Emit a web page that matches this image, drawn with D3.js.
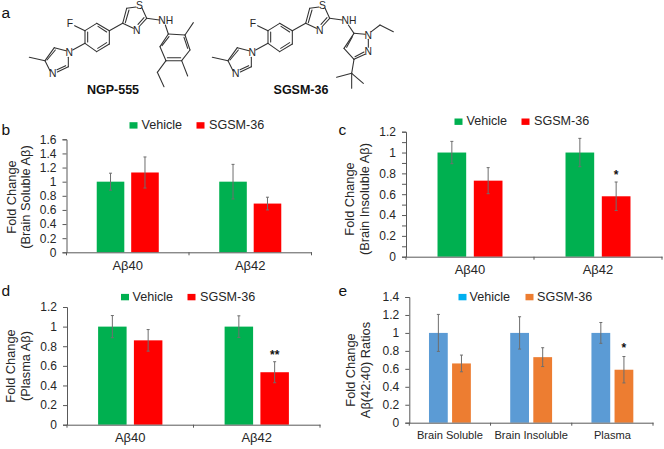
<!DOCTYPE html>
<html><head><meta charset="utf-8">
<script src="https://cdnjs.cloudflare.com/ajax/libs/d3/7.8.5/d3.min.js"></script>
<style>
html,body{margin:0;padding:0;background:#fff}
svg{display:block}
text{font-family:"Liberation Sans",Arial,sans-serif;fill:#262626}
</style></head><body>
<svg id="c" width="664" height="449"></svg>
<script>
// ---------- data ----------
const seriesNames = ["Vehicle", "SGSM-36"];
const abCats = ["Aβ40", "Aβ42"];
const ratioCats = ["Brain Soluble", "Brain Insoluble", "Plasma"];

const bVehicle = [1, 1],       bVehicleErr = [0.12, 0.245];
const bDrug    = [1.13, 0.69], bDrugErr    = [0.22, 0.09];
const bTicks   = [0, 0.2, 0.4, 0.6, 0.8, 1, 1.2, 1.4, 1.6];

const cVehicle = [1, 1],       cVehicleErr = [0.107, 0.136];
const cDrug    = [0.73, 0.58], cDrugErr    = [0.125, 0.137];
const cStars   = ["", "*"];
const cTicks   = [0, 0.2, 0.4, 0.6, 0.8, 1, 1.2];
const cMinorTicks = [0.1, 0.3, 0.5, 0.7, 0.9, 1.1];

const dVehicle = [1, 1],        dVehicleErr = [0.113, 0.11];
const dDrug    = [0.86, 0.535], dDrugErr    = [0.11, 0.107];
const dStars   = ["", "**"];
const dTicks   = [0, 0.2, 0.4, 0.6, 0.8, 1, 1.2];

const eVehicle = [1, 1, 1],          eVehicleErr = [0.206, 0.18, 0.116];
const eDrug    = [0.66, 0.73, 0.59], eDrugErr    = [0.093, 0.105, 0.147];
const eStars   = ["", "", "*"];
const eTicks   = [0, 0.2, 0.4, 0.6, 0.8, 1, 1.2, 1.4];

// ---------- chemical structures (drawn in 3x sketch units) ----------
const scaffoldBonds = [
 [88,172,135,182],[135,182,163,143],[141,180,166,150],[163,143,198,152],[205,172,205,200],
 [205,200,172,216],[197,197,171,209],[150,212,135,182],
 [218,150,255,130],[255,130,255,92],[263,126,263,96],[255,92,290,70],[290,70,328,92],
 [294,79,320,96],[328,92,328,132],[328,132,290,155],[320,128,293,145],[290,155,255,130],
 [255,92,224,77],
 [328,92,368,70],[368,70,380,25],[376,68,387,30],[380,25,408,21],[426,24,440,55],
 [440,55,419,78],[432,53,414,73],[400,85,368,70],[440,55,478,60]];
const ngpBonds = [
 [496,75,505,102],[505,102,555,105],[555,105,570,150],[552,112,563,145],[570,150,545,182],
 [545,182,498,182],[542,173,502,173],[498,182,480,140],[480,140,505,102],[486,137,507,110],
 [555,105,580,68],[545,182,563,228],[498,182,472,217],[472,217,492,260]];
const sgsmBonds = [
 [445,75,462,100],[462,100,495,103],[462,100,432,145],[457,110,440,142],[432,145,462,178],
 [462,178,495,163],[465,170,492,156],[505,118,505,142],
 [514,95,540,75],[540,75,580,95],
 [462,178,455,220],[455,220,410,232],[455,220,490,250],[455,220,455,265]];
const scaffoldLabels = [["F",210,70],["N",208,157],["N",158,220],["S",418,15],["N",410,92]];
const ngpLabels  = [["NH",497,60]];
const sgsmLabels = [["NH",447,60],["N",505,105],["N",505,155]];

// ---------- layout ----------
const svg = d3.select("#c");
const GREEN="#00B050", RED="#FF0000", BLUE="#5B9BD5", ORANGE="#ED7D31";

function molecule(bonds, labels, ox, oy){
  const g = svg.append("g").attr("transform",`translate(${ox},${oy}) scale(${1/3})`);
  g.selectAll("line").data(bonds).join("line")
   .attr("x1",d=>d[0]).attr("y1",d=>d[1]).attr("x2",d=>d[2]).attr("y2",d=>d[3])
   .attr("stroke","#333").attr("stroke-width",3.2).attr("stroke-linecap","round");
  g.selectAll("text").data(labels).join("text").text(d=>d[0])
   .attr("x",d=>d[1]).attr("y",d=>d[2]+11).attr("text-anchor","middle")
   .attr("font-size",31);
}
molecule(scaffoldBonds, scaffoldLabels, 0, 0);
molecule(ngpBonds, ngpLabels, 0, 0);
molecule(scaffoldBonds, scaffoldLabels, 183, 0);
molecule(sgsmBonds, sgsmLabels, 200, 0);
svg.append("text").text("NGP-555").attr("x",113).attr("y",94).attr("text-anchor","middle")
   .attr("font-size",12.5).attr("font-weight","bold").style("fill","#111");
svg.append("text").text("SGSM-36").attr("x",301).attr("y",94).attr("text-anchor","middle")
   .attr("font-size",12.5).attr("font-weight","bold").style("fill","#111");

function letter(t,x,y){
  svg.append("text").text(t).attr("x",x).attr("y",y).attr("font-size",15.5).style("fill","#111");
}
letter("a",1.5,18); letter("b",1.5,134.5); letter("c",338.5,134.5); letter("d",1.5,296); letter("e",338.5,296);

function panel(p){
  const g = svg.append("g");
  const y = d3.scaleLinear().domain([0,p.max]).range([p.y0,p.y1]);
  const x = d3.scaleBand().domain(p.cats).range([p.x0,p.x1]);
  const inner = d3.scaleBand().domain(seriesNames).range([0,x.step()])
                  .paddingInner(p.pi).paddingOuter(p.po);
  const rows = p.cats.flatMap((c,i)=>[
    {c,s:seriesNames[0],v:p.v0[i],e:p.e0[i],col:p.colors[0],star:""},
    {c,s:seriesNames[1],v:p.v1[i],e:p.e1[i],col:p.colors[1],star:p.stars?p.stars[i]:""}]);
  const cx = d=>x(d.c)+inner(d.s)+inner.bandwidth()/2;
  g.selectAll("rect.bar").data(rows).join("rect").attr("class","bar")
    .attr("x",d=>x(d.c)+inner(d.s)).attr("width",inner.bandwidth())
    .attr("y",d=>y(d.v)).attr("height",d=>y(0)-y(d.v)).attr("fill",d=>d.col);
  // error bars
  const eb = g.selectAll("g.eb").data(rows).join("g").attr("class","eb")
    .attr("stroke","#6e6e6e").attr("stroke-width",1);
  eb.append("line").attr("x1",cx).attr("x2",cx).attr("y1",d=>y(d.v+d.e)).attr("y2",d=>y(d.v-d.e));
  eb.append("line").attr("x1",d=>cx(d)-1.5).attr("x2",d=>cx(d)+1.5).attr("y1",d=>y(d.v+d.e)).attr("y2",d=>y(d.v+d.e));
  eb.append("line").attr("x1",d=>cx(d)-1.5).attr("x2",d=>cx(d)+1.5).attr("y1",d=>y(d.v-d.e)).attr("y2",d=>y(d.v-d.e));
  g.selectAll("text.star").data(rows.filter(d=>d.star)).join("text").attr("class","star")
    .text(d=>d.star).attr("x",cx).attr("y",d=>y(d.v+d.e)-p.starGap).attr("text-anchor","middle")
    .attr("font-size",12).attr("font-weight","bold").style("fill","#111");
  // axes
  const ya = g.append("g").attr("transform",`translate(${p.x0},0)`)
    .call(d3.axisLeft(y).tickValues(p.ticks).tickFormat(d3.format("~g")).tickSize(4).tickPadding(6));
  if(p.minor){
    const ym = g.append("g").attr("transform",`translate(${p.x0},0)`)
      .call(d3.axisLeft(y).tickValues(p.minor).tickFormat("").tickSize(4));
    ym.select(".domain").remove();
    ym.selectAll(".tick line").attr("stroke","#595959");
  }
  const xa = g.append("g").attr("transform",`translate(0,${p.y0})`)
    .call(d3.axisBottom(x).tickSize(0).tickPadding(p.xpad));
  const seps = [...p.cats.map(c=>x(c)), p.x1];
  xa.selectAll("line.sep").data(seps).join("line").attr("class","sep")
    .attr("x1",d=>d).attr("x2",d=>d).attr("y1",0).attr("y2",3).attr("stroke","#595959");
  [ya,xa].forEach(a=>{
    a.select(".domain").attr("stroke","#595959");
    a.selectAll(".tick line").attr("stroke","#595959");
  });
  ya.selectAll("text").attr("font-size",12);
  xa.selectAll("text").attr("font-size",p.xfont);
  ya.attr("font-family",null); xa.attr("font-family",null);
  // y title
  p.title.forEach((t,i)=>{
    g.append("text").text(t).attr("text-anchor","middle").attr("font-size",12.8)
     .attr("transform",`translate(${p.titleX[i]},${p.titleY}) rotate(-90)`);
  });
  // legend
  seriesNames.forEach((n,i)=>{
    g.append("rect").attr("x",p.lg.sw[i]).attr("y",p.lg.y-6.8).attr("width",8).attr("height",6.4)
      .attr("fill",p.lgColors[i]);
    g.append("text").text(n).attr("x",p.lg.tx[i]).attr("y",p.lg.y).attr("font-size",12.6);
  });
}

panel({cats:abCats,max:1.6,ticks:bTicks,x0:66.5,x1:311.5,y0:252.3,y1:139.3,pi:.2,po:.877,
  v0:bVehicle,e0:bVehicleErr,v1:bDrug,e1:bDrugErr,colors:[GREEN,RED],lgColors:[GREEN,RED],starGap:3,
  title:["Fold Change","(Brain Soluble Aβ)"],titleX:[15.5,30],titleY:197,
  lg:{sw:[129.5,196.5],tx:[141.5,209],y:129},xpad:8.5,xfont:13});
panel({cats:abCats,max:1.2,ticks:cTicks,minor:cMinorTicks,x0:406,x1:662,y0:256.7,y1:131.7,pi:.21,po:.868,
  v0:cVehicle,e0:cVehicleErr,v1:cDrug,e1:cDrugErr,stars:cStars,colors:[GREEN,RED],lgColors:[GREEN,RED],starGap:3,
  title:["Fold Change","(Brain Insoluble Aβ)"],titleX:[353.5,369],titleY:199,
  lg:{sw:[454.5,521.5],tx:[466.5,534],y:125.3},xpad:8,xfont:13});
panel({cats:abCats,max:1.2,ticks:dTicks,x0:67,x1:320,y0:424.7,y1:307,pi:.204,po:.869,
  v0:dVehicle,e0:dVehicleErr,v1:dDrug,e1:dDrugErr,stars:dStars,colors:[GREEN,RED],lgColors:[GREEN,RED],starGap:3,
  title:["Fold Change","(Plasma Aβ)"],titleX:[15,30],titleY:366,
  lg:{sw:[121,187.5],tx:[132.5,200],y:300.7},xpad:8,xfont:13});
panel({cats:ratioCats,max:1.4,ticks:eTicks,x0:409.3,x1:653,y0:422.7,y1:297,pi:.187,po:.852,
  v0:eVehicle,e0:eVehicleErr,v1:eDrug,e1:eDrugErr,stars:eStars,colors:[BLUE,ORANGE],lgColors:["#00B0F0",ORANGE],starGap:5,
  title:["Fold Change","Aβ(42:40) Ratios"],titleX:[354.5,370],titleY:370,
  lg:{sw:[458.5,525.5],tx:[469.5,537],y:300.7},xpad:8,xfont:11.1});
</script>
</body></html>
